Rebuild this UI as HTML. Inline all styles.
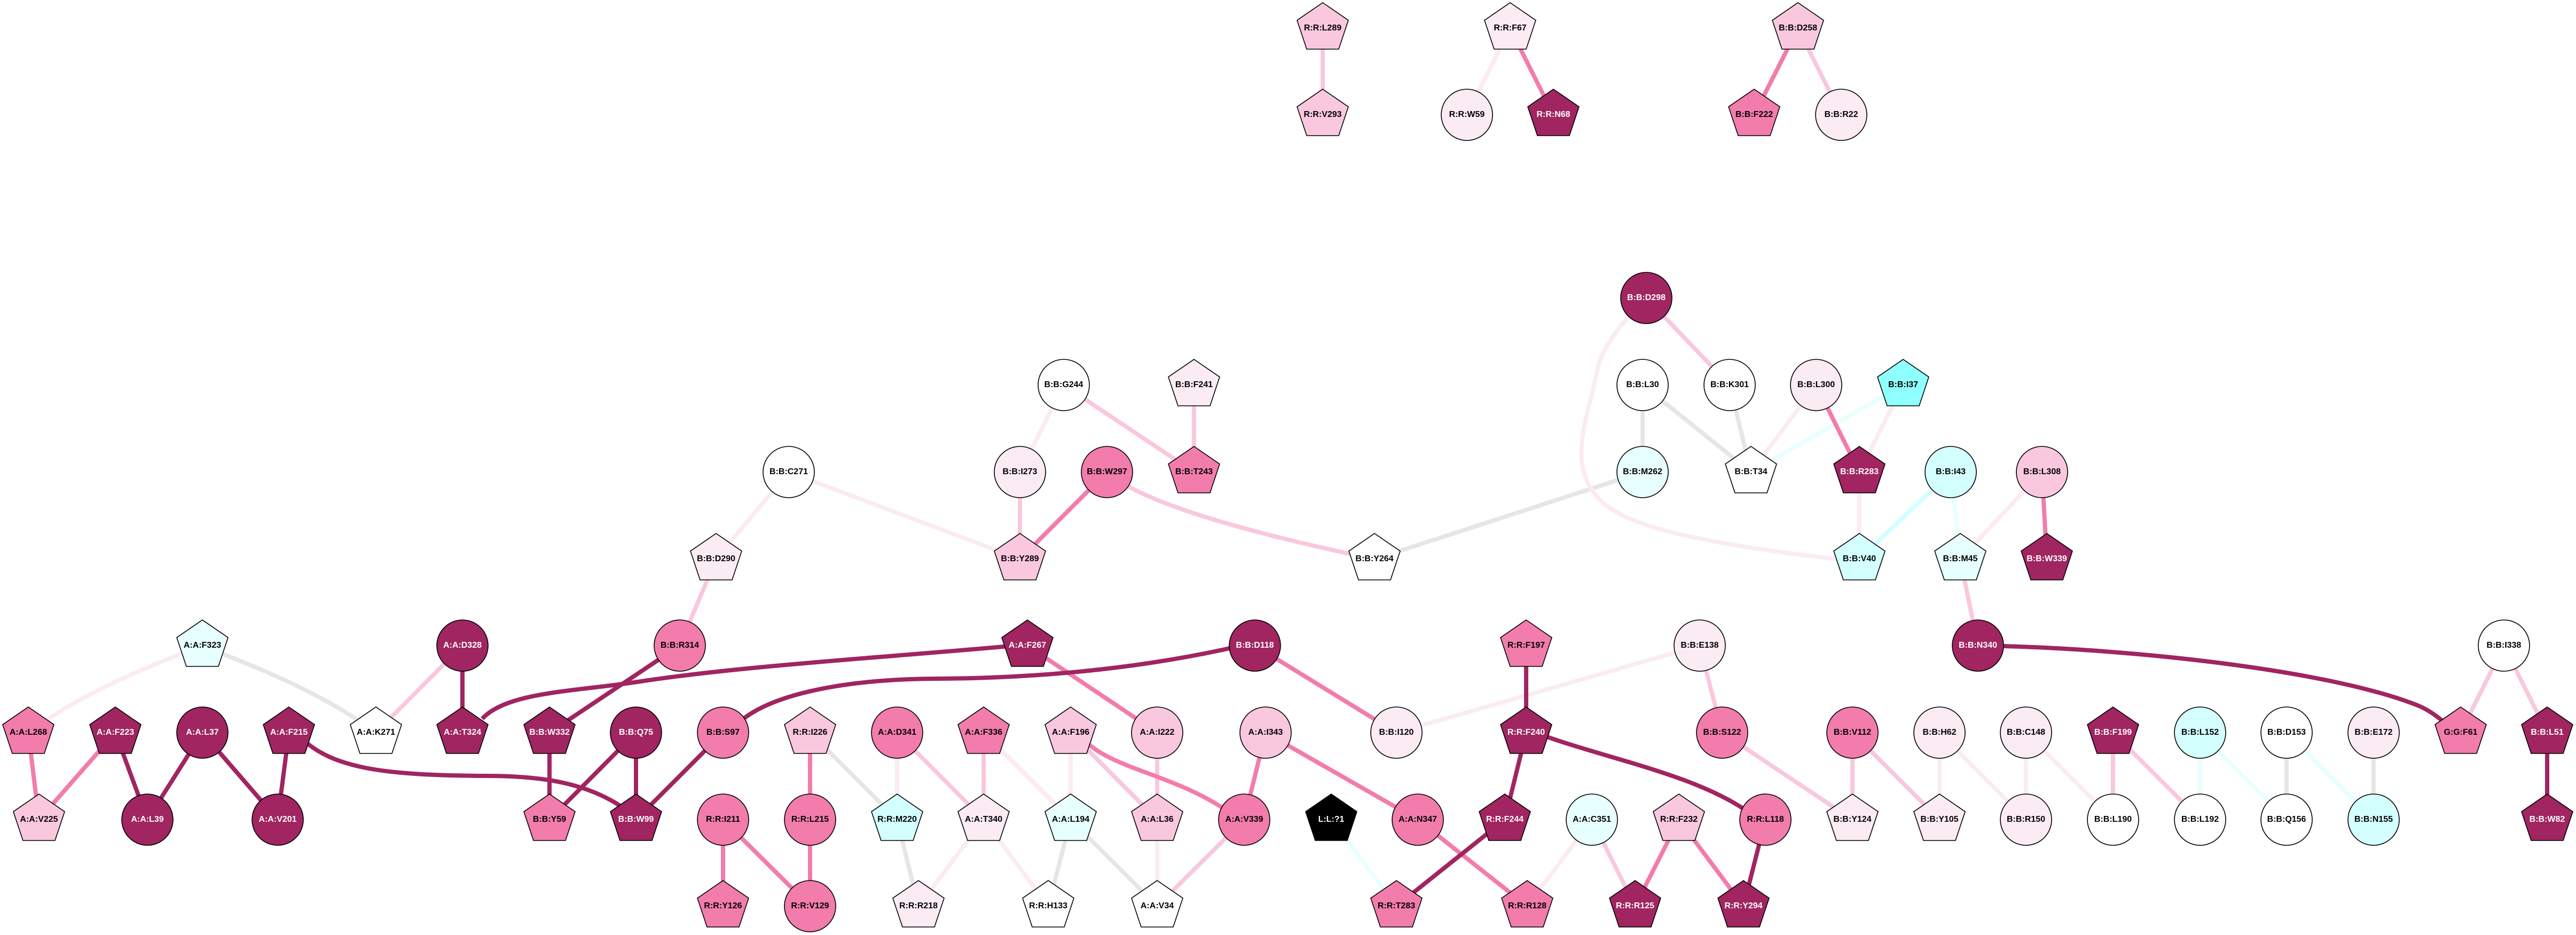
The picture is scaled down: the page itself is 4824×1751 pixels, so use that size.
<!DOCTYPE html>
<html><head><meta charset="utf-8"><title>Residue network</title>
<style>
html,body{margin:0;padding:0;background:#fff}
svg{display:block}
.e{fill:none;stroke-width:8}
.ecy{stroke:#E8FFFF}.ecm{stroke:#D4FFFF}.egr{stroke:#E6E6E6}.evl{stroke:#FBEBF3}.eli{stroke:#F9C8DE}.eme{stroke:#F27CAB}.eda{stroke:#A02560}
.n use,.n circle{stroke:#000;stroke-width:1.6}
.w{fill:#fff}.pc{fill:#E8FFFF}.cy{fill:#D4FFFF}.br{fill:#8FFFFF}.vl{fill:#FBEBF3}.li{fill:#F9C8DE}.me{fill:#F27CAB}.da{fill:#A02560}.bk{fill:#000}
text{font-family:"Liberation Sans",sans-serif;font-size:16px;font-weight:bold;text-anchor:middle;fill:#000;stroke:none}
text.t{fill:#fff}
</style></head><body>
<svg xmlns="http://www.w3.org/2000/svg" width="4824" height="1751" viewBox="0 0 4824 1751">
<defs><polygon id="p" points="0,-48 48,-15 30,39 -30,39 -48,-15"/></defs>
<rect width="4824" height="1751" fill="#fff"/>
<g class="e ecy">
<path d="M2493 1535L2615 1697M4120 1372L4120 1535M4120 1372L4282 1535M4282 1372L4445 1535M3564 721L3279 884M3653 884L3671 1047"/>
</g>
<g class="e ecm"><path d="M3653 884L3482 1047"/></g>
<g class="e egr">
<path d="M379 1209C480 1250 600 1295 704 1372M1517 1372L1680 1535M1680 1535L1720 1697M2005 1535L1963 1697M2005 1535L2167 1697M4282 1372L4282 1535M4445 1372L4445 1535M3076 721L3076 884M3076 721L3279 884M3239 721L3279 884M3076 884L2574 1047"/>
</g>
<g class="e evl">
<path d="M379 1209C260 1255 150 1300 53 1372M1680 1372L1680 1535M1842 1372L2005 1535M2005 1372L2005 1535M2167 1535L2167 1697M1842 1535L1720 1697M1842 1535L1963 1697M2981 1535L2860 1697M3183 1209L2615 1372M3632 1372L3632 1535M3632 1372L3794 1535M3794 1372L3794 1535M3794 1372L3957 1535M3824 884L3671 1047M3482 884L3482 1047M3401 721L3279 884M3564 721L3482 884M1992 721L1910 884M1477 884L1910 1047M1477 884L1341 1047M2828 53L2747 215"/>
<path d="M3083 558C3040 600 3000 650 2992 690C2975 780 2930 870 2997 937C3050 990 3200 1020 3482 1052"/>
</g>
<g class="e eli">
<path d="M866 1209L704 1372M1341 1047L1273 1209M1273 1209L1260 1209M1680 1372L1842 1535M1842 1372L1842 1535M2005 1372L2167 1535M2167 1372L2167 1535M2330 1535L2167 1697M2981 1535L3062 1697M3183 1209L3225 1372M3225 1372L3469 1535M3469 1372L3469 1535M3469 1372L3632 1535M3957 1372L3957 1535M3957 1372L4120 1535M4689 1209L4608 1372M4689 1209L4770 1372M3671 1047L3704 1209M3083 558L3239 721M1910 884L1910 1047M1992 721L2236 884M2236 721L2236 884M2477 53L2477 215M3367 53L3448 215"/>
<path d="M2073 884C2130 935 2300 990 2574 1047"/>
</g>
<g class="e eme">
<path d="M53 1372L73 1535M216 1372L73 1535M1924 1209L2167 1372M2350 1209L2615 1372M1517 1372L1517 1535M2370 1372L2330 1535M2370 1372L2655 1535M1354 1535L1354 1697M1354 1535L1517 1697M1517 1535L1517 1697M2655 1535L2860 1697M3144 1535L3062 1697M3144 1535L3265 1697M3401 721L3482 884M3824 884L3833 1047M2073 884L1910 1047M2828 53L2909 215M3367 53L3285 215"/>
<path d="M2030 1385C2080 1440 2200 1450 2300 1520"/>
</g>
<g class="e eda">
<path d="M216 1372L276 1535M379 1372L276 1535M379 1372L520 1535M541 1372L520 1535M866 1209L866 1372M1273 1209L1029 1372M1029 1372L1029 1535M1191 1372L1029 1535M1191 1372L1191 1535M1354 1372L1191 1535M2858 1209L2858 1372M2858 1372L2818 1535M2818 1535L2615 1697M3306 1535L3265 1697M4770 1372L4770 1535"/>
<path d="M560 1378C620 1440 720 1452 912 1453C1010 1453 1100 1465 1170 1515"/>
<path d="M903 1346C950 1295 1080 1295 1200 1276C1400 1246 1650 1232 1924 1207"/>
<path d="M2350 1203C2200 1240 2000 1270 1750 1271C1600 1272 1450 1295 1385 1352"/>
<path d="M2870 1370C3000 1420 3180 1450 3280 1525"/>
<path d="M3704 1209C3950 1212 4350 1250 4530 1322Q4560 1335 4590 1365"/>
</g>
<g class="n">
<use href="#p" x="379" y="1209" class="pc"/><text x="379" y="1213">A:A:F323</text>
<use href="#p" x="53" y="1372" class="me"/><text x="53" y="1376">A:A:L268</text>
<use href="#p" x="216" y="1372" class="da"/><text class="t" x="216" y="1376">A:A:F223</text>
<circle cx="379" cy="1372" r="48" class="da"/><text class="t" x="379" y="1376">A:A:L37</text>
<use href="#p" x="541" y="1372" class="da"/><text class="t" x="541" y="1376">A:A:F215</text>
<use href="#p" x="704" y="1372" class="w"/><text x="704" y="1376">A:A:K271</text>
<use href="#p" x="866" y="1372" class="da"/><text class="t" x="866" y="1376">A:A:T324</text>
<circle cx="866" cy="1209" r="48" class="da"/><text class="t" x="866" y="1213">A:A:D328</text>
<use href="#p" x="1029" y="1372" class="da"/><text class="t" x="1029" y="1376">B:B:W332</text>
<circle cx="1191" cy="1372" r="48" class="da"/><text class="t" x="1191" y="1376">B:B:Q75</text>
<circle cx="1273" cy="1209" r="48" class="me"/><text x="1273" y="1213">B:B:R314</text>
<use href="#p" x="73" y="1535" class="li"/><text x="73" y="1539">A:A:V225</text>
<circle cx="276" cy="1535" r="48" class="da"/><text class="t" x="276" y="1539">A:A:L39</text>
<circle cx="520" cy="1535" r="48" class="da"/><text class="t" x="520" y="1539">A:A:V201</text>
<use href="#p" x="1029" y="1535" class="me"/><text x="1029" y="1539">B:B:Y59</text>
<use href="#p" x="1191" y="1535" class="da"/><text class="t" x="1191" y="1539">B:B:W99</text>
<use href="#p" x="1924" y="1209" class="da"/><text class="t" x="1924" y="1213">A:A:F267</text>
<circle cx="2350" cy="1209" r="48" class="da"/><text class="t" x="2350" y="1213">B:B:D118</text>
<circle cx="1354" cy="1372" r="48" class="me"/><text x="1354" y="1376">B:B:S97</text>
<use href="#p" x="1517" y="1372" class="li"/><text x="1517" y="1376">R:R:I226</text>
<circle cx="1680" cy="1372" r="48" class="me"/><text x="1680" y="1376">A:A:D341</text>
<use href="#p" x="1842" y="1372" class="me"/><text x="1842" y="1376">A:A:F336</text>
<use href="#p" x="2005" y="1372" class="li"/><text x="2005" y="1376">A:A:F196</text>
<circle cx="2167" cy="1372" r="48" class="li"/><text x="2167" y="1376">A:A:I222</text>
<circle cx="2370" cy="1372" r="48" class="li"/><text x="2370" y="1376">A:A:I343</text>
<circle cx="1354" cy="1535" r="48" class="me"/><text x="1354" y="1539">R:R:I211</text>
<circle cx="1517" cy="1535" r="48" class="me"/><text x="1517" y="1539">R:R:L215</text>
<use href="#p" x="1680" y="1535" class="cy"/><text x="1680" y="1539">R:R:M220</text>
<use href="#p" x="1842" y="1535" class="vl"/><text x="1842" y="1539">A:A:T340</text>
<use href="#p" x="2005" y="1535" class="pc"/><text x="2005" y="1539">A:A:L194</text>
<use href="#p" x="2167" y="1535" class="li"/><text x="2167" y="1539">A:A:L36</text>
<circle cx="2330" cy="1535" r="48" class="me"/><text x="2330" y="1539">A:A:V339</text>
<use href="#p" x="2493" y="1535" class="bk"/><text class="t" x="2493" y="1539">L:L:?1</text>
<use href="#p" x="1354" y="1697" class="me"/><text x="1354" y="1701">R:R:Y126</text>
<circle cx="1517" cy="1697" r="48" class="me"/><text x="1517" y="1701">R:R:V129</text>
<use href="#p" x="1720" y="1697" class="vl"/><text x="1720" y="1701">R:R:R218</text>
<use href="#p" x="1963" y="1697" class="w"/><text x="1963" y="1701">R:R:H133</text>
<use href="#p" x="2167" y="1697" class="w"/><text x="2167" y="1701">A:A:V34</text>
<use href="#p" x="2858" y="1209" class="me"/><text x="2858" y="1213">R:R:F197</text>
<circle cx="3183" cy="1209" r="48" class="vl"/><text x="3183" y="1213">B:B:E138</text>
<circle cx="2615" cy="1372" r="48" class="vl"/><text x="2615" y="1376">B:B:I120</text>
<use href="#p" x="2858" y="1372" class="da"/><text class="t" x="2858" y="1376">R:R:F240</text>
<circle cx="3225" cy="1372" r="48" class="me"/><text x="3225" y="1376">B:B:S122</text>
<circle cx="3469" cy="1372" r="48" class="me"/><text x="3469" y="1376">B:B:V112</text>
<circle cx="3632" cy="1372" r="48" class="vl"/><text x="3632" y="1376">B:B:H62</text>
<circle cx="2655" cy="1535" r="48" class="me"/><text x="2655" y="1539">A:A:N347</text>
<use href="#p" x="2818" y="1535" class="da"/><text class="t" x="2818" y="1539">R:R:F244</text>
<circle cx="2981" cy="1535" r="48" class="pc"/><text x="2981" y="1539">A:A:C351</text>
<use href="#p" x="3144" y="1535" class="li"/><text x="3144" y="1539">R:R:F232</text>
<circle cx="3306" cy="1535" r="48" class="me"/><text x="3306" y="1539">R:R:L118</text>
<use href="#p" x="3469" y="1535" class="vl"/><text x="3469" y="1539">B:B:Y124</text>
<use href="#p" x="3632" y="1535" class="vl"/><text x="3632" y="1539">B:B:Y105</text>
<use href="#p" x="2615" y="1697" class="me"/><text x="2615" y="1701">R:R:T283</text>
<use href="#p" x="2860" y="1697" class="me"/><text x="2860" y="1701">R:R:R128</text>
<use href="#p" x="3062" y="1697" class="da"/><text class="t" x="3062" y="1701">R:R:R125</text>
<use href="#p" x="3265" y="1697" class="da"/><text class="t" x="3265" y="1701">R:R:Y294</text>
<circle cx="3704" cy="1209" r="48" class="da"/><text class="t" x="3704" y="1213">B:B:N340</text>
<circle cx="4689" cy="1209" r="48" class="w"/><text x="4689" y="1213">B:B:I338</text>
<circle cx="3794" cy="1372" r="48" class="vl"/><text x="3794" y="1376">B:B:C148</text>
<use href="#p" x="3957" y="1372" class="da"/><text class="t" x="3957" y="1376">B:B:F199</text>
<circle cx="4120" cy="1372" r="48" class="cy"/><text x="4120" y="1376">B:B:L152</text>
<circle cx="4282" cy="1372" r="48" class="w"/><text x="4282" y="1376">B:B:D153</text>
<circle cx="4445" cy="1372" r="48" class="vl"/><text x="4445" y="1376">B:B:E172</text>
<use href="#p" x="4608" y="1372" class="me"/><text x="4608" y="1376">G:G:F61</text>
<use href="#p" x="4770" y="1372" class="da"/><text class="t" x="4770" y="1376">B:B:L51</text>
<circle cx="3794" cy="1535" r="48" class="vl"/><text x="3794" y="1539">B:B:R150</text>
<circle cx="3957" cy="1535" r="48" class="w"/><text x="3957" y="1539">B:B:L190</text>
<circle cx="4120" cy="1535" r="48" class="w"/><text x="4120" y="1539">B:B:L192</text>
<circle cx="4282" cy="1535" r="48" class="w"/><text x="4282" y="1539">B:B:Q156</text>
<circle cx="4445" cy="1535" r="48" class="cy"/><text x="4445" y="1539">B:B:N155</text>
<use href="#p" x="4770" y="1535" class="da"/><text class="t" x="4770" y="1539">B:B:W82</text>
<use href="#p" x="2477" y="53" class="li"/><text x="2477" y="57">R:R:L289</text>
<use href="#p" x="2828" y="53" class="vl"/><text x="2828" y="57">R:R:F67</text>
<use href="#p" x="3367" y="53" class="li"/><text x="3367" y="57">B:B:D258</text>
<use href="#p" x="2477" y="215" class="li"/><text x="2477" y="219">R:R:V293</text>
<circle cx="2747" cy="215" r="48" class="vl"/><text x="2747" y="219">R:R:W59</text>
<use href="#p" x="2909" y="215" class="da"/><text class="t" x="2909" y="219">R:R:N68</text>
<use href="#p" x="3285" y="215" class="me"/><text x="3285" y="219">B:B:F222</text>
<circle cx="3448" cy="215" r="48" class="vl"/><text x="3448" y="219">B:B:R22</text>
<circle cx="1992" cy="721" r="48" class="w"/><text x="1992" y="725">B:B:G244</text>
<use href="#p" x="2236" y="721" class="vl"/><text x="2236" y="725">B:B:F241</text>
<circle cx="1477" cy="884" r="48" class="w"/><text x="1477" y="888">B:B:C271</text>
<circle cx="1910" cy="884" r="48" class="vl"/><text x="1910" y="888">B:B:I273</text>
<circle cx="2073" cy="884" r="48" class="me"/><text x="2073" y="888">B:B:W297</text>
<use href="#p" x="2236" y="884" class="me"/><text x="2236" y="888">B:B:T243</text>
<use href="#p" x="1341" y="1047" class="vl"/><text x="1341" y="1051">B:B:D290</text>
<use href="#p" x="1910" y="1047" class="li"/><text x="1910" y="1051">B:B:Y289</text>
<use href="#p" x="2574" y="1047" class="w"/><text x="2574" y="1051">B:B:Y264</text>
<circle cx="3083" cy="558" r="48" class="da"/><text class="t" x="3083" y="562">B:B:D298</text>
<circle cx="3076" cy="721" r="48" class="w"/><text x="3076" y="725">B:B:L30</text>
<circle cx="3239" cy="721" r="48" class="w"/><text x="3239" y="725">B:B:K301</text>
<circle cx="3401" cy="721" r="48" class="vl"/><text x="3401" y="725">B:B:L300</text>
<use href="#p" x="3564" y="721" class="br"/><text x="3564" y="725">B:B:I37</text>
<circle cx="3076" cy="884" r="48" class="pc"/><text x="3076" y="888">B:B:M262</text>
<use href="#p" x="3279" y="884" class="w"/><text x="3279" y="888">B:B:T34</text>
<use href="#p" x="3482" y="884" class="da"/><text class="t" x="3482" y="888">B:B:R283</text>
<circle cx="3653" cy="884" r="48" class="cy"/><text x="3653" y="888">B:B:I43</text>
<circle cx="3824" cy="884" r="48" class="li"/><text x="3824" y="888">B:B:L308</text>
<use href="#p" x="3482" y="1047" class="cy"/><text x="3482" y="1051">B:B:V40</text>
<use href="#p" x="3671" y="1047" class="pc"/><text x="3671" y="1051">B:B:M45</text>
<use href="#p" x="3833" y="1047" class="da"/><text class="t" x="3833" y="1051">B:B:W339</text>
</g>
</svg>
</body></html>
